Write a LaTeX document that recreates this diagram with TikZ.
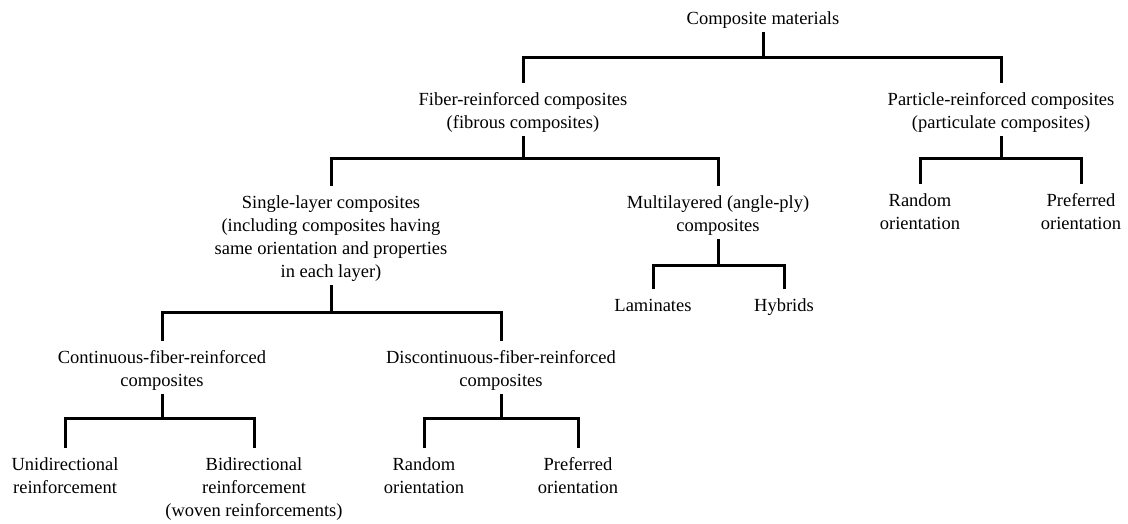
\documentclass[tikz,border=0pt]{standalone}
\usepackage{fontspec}
\setmainfont{Liberation Serif}
\newfontfamily\lblfont{Liberation Serif}
\newcommand{\ls}{\rule[-4pt]{0pt}{22pt}}
\begin{document}
\begin{tikzpicture}[x=1pt,y=-1pt,
  lbl/.style={font=\lblfont\fontsize{18.5}{23}\selectfont, align=center, inner xsep=0pt, inner ysep=4pt, anchor=north},
  conn/.style={line width=3pt}]
\useasboundingbox[fill=white] (0,0) rectangle (1128,523);
% nodes
\node[lbl] (root) at (763,2) {\ls Composite materials};
\node[lbl] (fib) at (523,83) {\ls Fiber-reinforced composites\\\ls (fibrous composites)};
\node[lbl] (par) at (1001,83) {\ls Particle-reinforced composites\\\ls (particulate composites)};
\node[lbl] (sin) at (331,186) {\ls Single-layer composites\\\ls (including composites having\\\ls same orientation and properties\\\ls in each layer)};
\node[lbl] (mul) at (718,186) {\ls Multilayered (angle-ply)\\\ls composites};
\node[lbl] (pr) at (920,184) {\ls Random\\\ls orientation};
\node[lbl] (pp) at (1081,184) {\ls Preferred\\\ls orientation};
\node[lbl] (lam) at (653,289) {\ls Laminates};
\node[lbl] (hyb) at (784,289) {\ls Hybrids};
\node[lbl] (con) at (162,341) {\ls Continuous-fiber-reinforced\\\ls composites};
\node[lbl] (dis) at (501,341) {\ls Discontinuous-fiber-reinforced\\\ls composites};
\node[lbl] (uni) at (65,448) {\ls Unidirectional\\\ls reinforcement};
\node[lbl] (bid) at (254,448) {\ls Bidirectional\\\ls reinforcement\\\ls (woven reinforcements)};
\node[lbl] (dr) at (424,448) {\ls Random\\\ls orientation};
\node[lbl] (dp) at (578,448) {\ls Preferred\\\ls orientation};
% bar coordinates
\coordinate (b0) at (763,57);
\coordinate (b1) at (523,158);
\coordinate (b2) at (1001,158);
\coordinate (b3) at (331,312);
\coordinate (b4) at (718,265);
\coordinate (b5) at (162,418);
\coordinate (b6) at (501,418);
% connectors
\draw[conn] (root.south) -- (b0);
\draw[conn] (fib.north) |- (b0) -| (par.north);
\draw[conn] (fib.south) -- (b1);
\draw[conn] (sin.north) |- (b1) -| (mul.north);
\draw[conn] (par.south) -- (b2);
\draw[conn] (pr.north) |- (b2) -| (pp.north);
\draw[conn] (sin.south) -- (b3);
\draw[conn] (con.north) |- (b3) -| (dis.north);
\draw[conn] (mul.south) -- (b4);
\draw[conn] (lam.north) |- (b4) -| (hyb.north);
\draw[conn] (con.south) -- (b5);
\draw[conn] (uni.north) |- (b5) -| (bid.north);
\draw[conn] (dis.south) -- (b6);
\draw[conn] (dr.north) |- (b6) -| (dp.north);
\end{tikzpicture}
\end{document}
